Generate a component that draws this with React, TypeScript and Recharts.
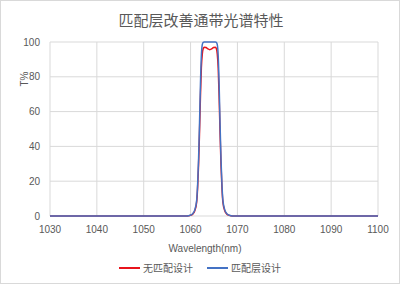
import React from 'react';
import { LineChart, Line, XAxis, YAxis, CartesianGrid, Legend } from 'recharts';

const wavelengths = [
  1030, 1040, 1050, 1055, 1058, 1059.1, 1059.6, 1060.1, 1060.5, 1060.9, 1061.3, 1061.5, 1061.7, 1061.9,
  1062.1, 1062.3, 1062.5, 1062.7, 1062.9, 1063.3, 1063.7, 1064.1, 1064.5, 1064.9, 1065.3, 1065.5,
  1065.7, 1065.9, 1066.1, 1066.3, 1066.5, 1066.7, 1066.9, 1067.3, 1067.7, 1068.1, 1068.6, 1069.1,
  1070, 1075, 1080, 1090, 1100,
];

// 无匹配设计
const noMatch = [
  0, 0, 0, 0, 0, 0, 0.15, 0.5, 1.2, 3, 8, 16, 29, 47,
  68, 85, 93, 96.2, 97, 96.8, 96, 95.6, 96, 96.8, 97, 96.2,
  93, 85, 68, 47, 29, 16, 8, 3, 1.2, 0.5, 0.15, 0,
  0, 0, 0, 0, 0,
];

// 匹配层设计
const withMatch = [
  0, 0, 0, 0, 0, 0, 0.2, 0.6, 1.5, 3.5, 9, 18, 32, 52,
  75, 92, 98.5, 99.8, 100, 100, 100, 100, 100, 100, 100, 99.8,
  98.5, 92, 75, 52, 32, 18, 9, 3.5, 1.5, 0.6, 0.2, 0,
  0, 0, 0, 0, 0,
];

const xTicks = [1030, 1040, 1050, 1060, 1070, 1080, 1090, 1100];
const yTicks = [0, 20, 40, 60, 80, 100];

const seriesNames = ['无匹配设计', '匹配层设计'];
const title = '匹配层改善通带光谱特性';

const data = wavelengths.map((wl, i) => ({ wl, a: noMatch[i], b: withMatch[i] }));

const textColor = '#595959';
const font = '"Liberation Sans", Arial, sans-serif';
const cjkFont = '"Noto Sans CJK SC", sans-serif';

const App = () => {
  return (
    <div
      style={{
        position: 'absolute',
        left: 0,
        top: 0,
        width: 400,
        height: 284,
        background: '#fff',
        boxSizing: 'border-box',
        border: '1px solid #d9d9d9',
      }}
    >
      <div
        style={{
          position: 'absolute',
          left: 0,
          top: 8,
          width: 400,
          textAlign: 'center',
          fontFamily: cjkFont,
          fontSize: 15,
          color: textColor,
          lineHeight: '22px',
        }}
      >
        {title}
      </div>
      <div
        style={{
          position: 'absolute',
          left: 14,
          top: 70,
          width: 20,
          height: 16,
          transform: 'rotate(-90deg)',
          fontFamily: font,
          fontSize: 10,
          color: textColor,
          textAlign: 'center',
          lineHeight: '16px',
        }}
      >
        T%
      </div>
      <div
        style={{
          position: 'absolute',
          left: 144,
          top: 241,
          width: 120,
          textAlign: 'center',
          fontFamily: font,
          fontSize: 10,
          color: textColor,
          lineHeight: '14px',
        }}
      >
        Wavelength(nm)
      </div>
      <LineChart
        width={398}
        height={282}
        data={data}
        margin={{ top: 41, right: 21, bottom: 47, left: 19 }}
        style={{ position: 'absolute', left: 0, top: 0 }}
      >
        <CartesianGrid stroke="#d9d9d9" strokeWidth={1} />
        <XAxis
          type="number"
          dataKey="wl"
          domain={[1030, 1100]}
          ticks={xTicks}
          axisLine={false}
          tickLine={false}
          tickMargin={4}
          height={20}
          tick={{ fontSize: 10, fill: textColor, fontFamily: font }}
        />
        <YAxis
          domain={[0, 100]}
          ticks={yTicks}
          axisLine={false}
          tickLine={false}
          tickMargin={4}
          width={30}
          tick={{ fontSize: 10, fill: textColor, fontFamily: font }}
        />
        <Legend
          verticalAlign="middle"
          align="center"
          wrapperStyle={{ top: 259, left: 0, width: 398 }}
          content={() => (
            <div style={{ display: 'flex', justifyContent: 'center', gap: 14, fontFamily: cjkFont, fontSize: 10, color: textColor }}>
              <span style={{ display: 'flex', alignItems: 'center' }}>
                <span style={{ display: 'inline-block', width: 21, height: 2, background: '#e8141c', marginRight: 3 }} />
                {seriesNames[0]}
              </span>
              <span style={{ display: 'flex', alignItems: 'center' }}>
                <span style={{ display: 'inline-block', width: 21, height: 2, background: '#4472c4', marginRight: 3 }} />
                {seriesNames[1]}
              </span>
            </div>
          )}
        />
        <Line
          type="monotone"
          dataKey="a"
          name={seriesNames[0]}
          stroke="#e8141c"
          strokeWidth={1.5}
          dot={false}
          isAnimationActive={false}
        />
        <Line
          type="monotone"
          dataKey="b"
          name={seriesNames[1]}
          stroke="#4472c4"
          strokeWidth={1.5}
          dot={false}
          isAnimationActive={false}
        />
      </LineChart>
    </div>
  );
};

export default App;
